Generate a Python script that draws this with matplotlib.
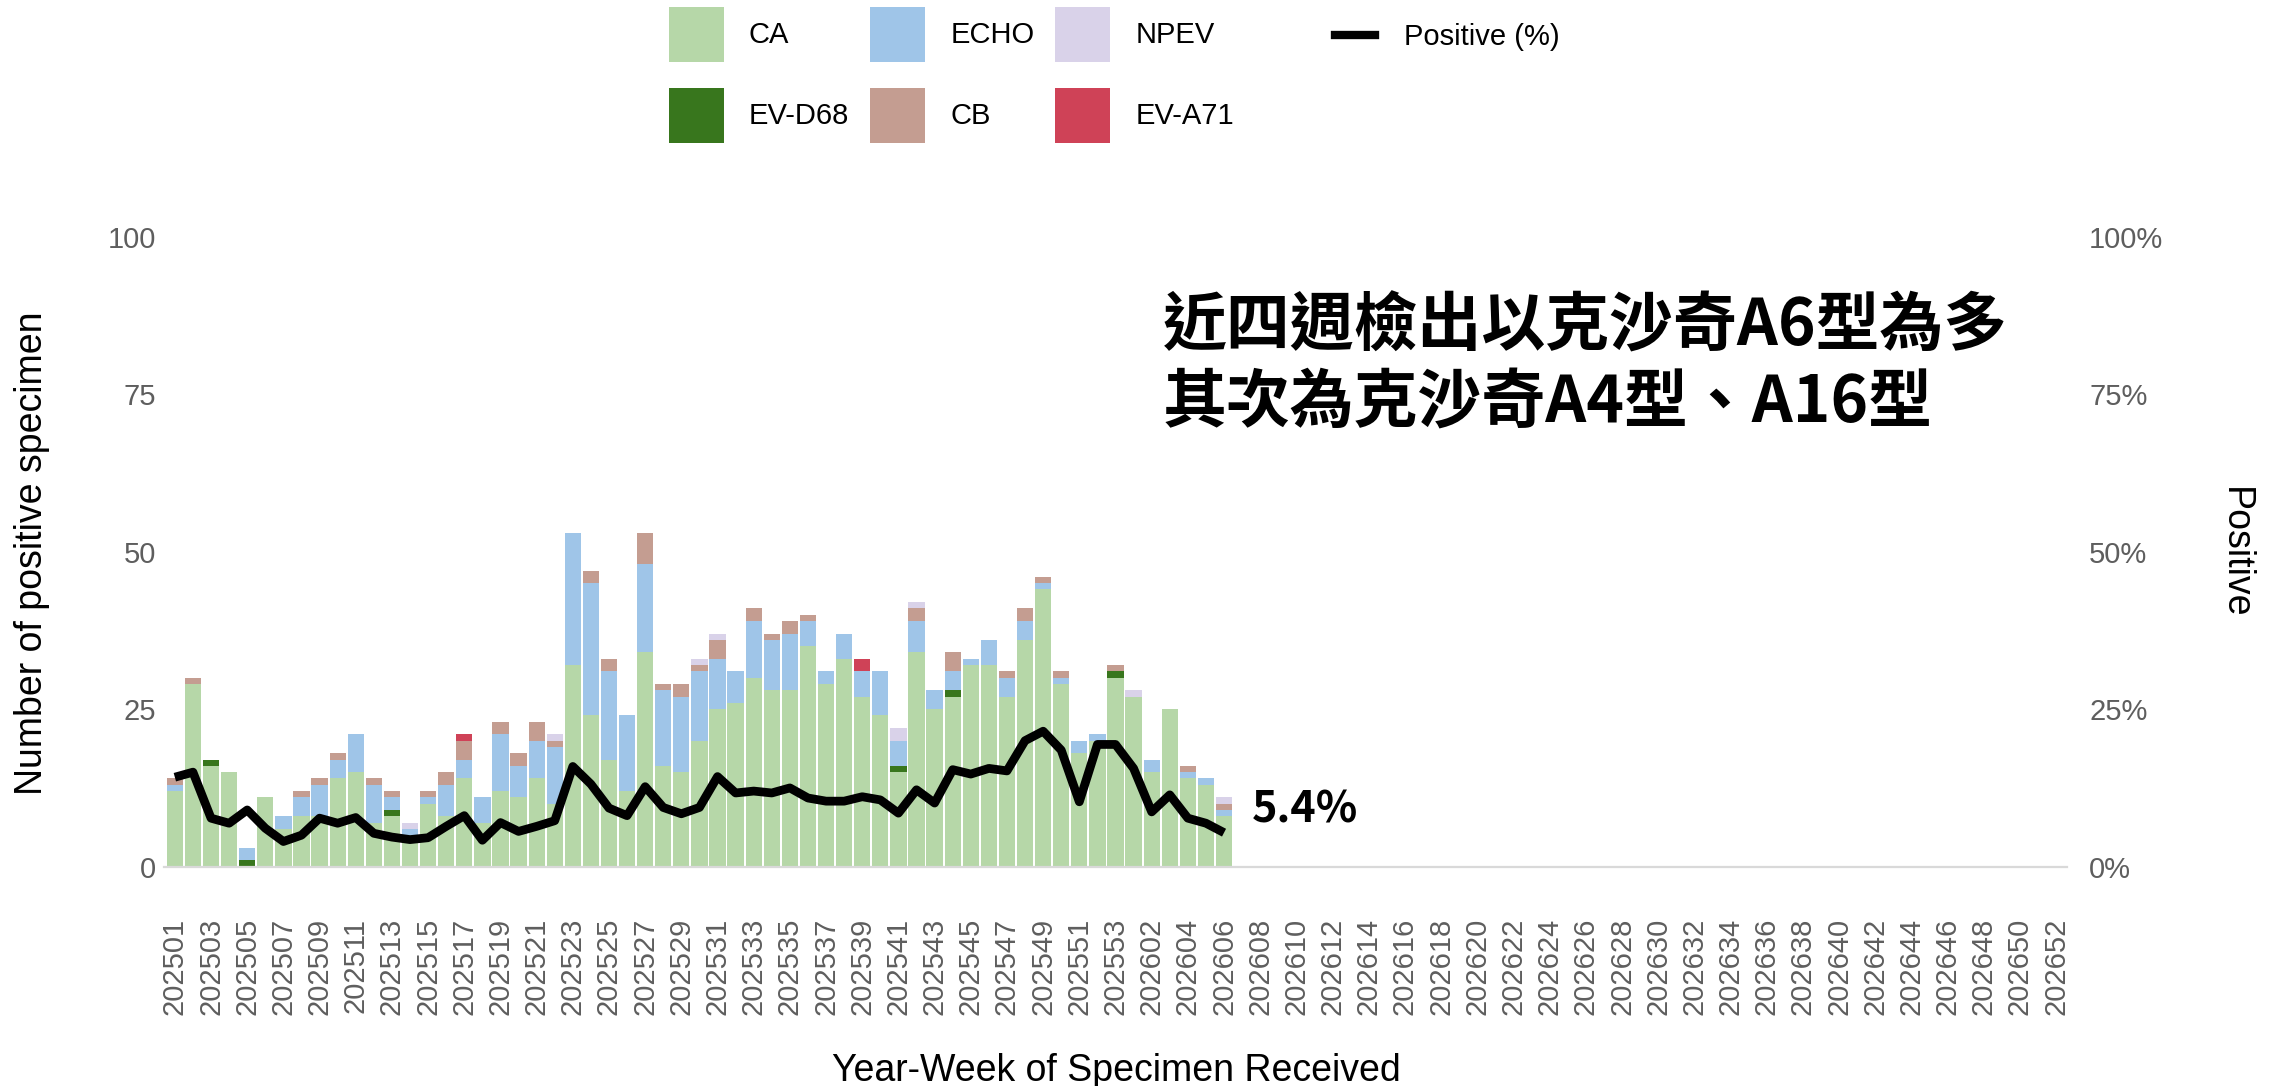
import numpy as np
import matplotlib
matplotlib.use("Agg")
import matplotlib.pyplot as plt
from matplotlib.patches import Patch
from matplotlib.lines import Line2D

plt.rcParams['font.family'] = ['Liberation Sans', 'DejaVu Sans']

# ---- data ----
weeks = [f"2025{w:02d}" for w in range(1, 54)] + [f"2026{w:02d}" for w in range(1, 53)]

CA = [12, 29, 16, 15, 0, 11, 6, 8, 8, 14, 15, 7, 8, 5, 10, 8, 14, 7, 12, 11,
      14, 10, 32, 24, 17, 12, 34, 16, 15, 20, 25, 26, 30, 28, 28, 35, 29, 33, 27, 24,
      15, 34, 25, 27, 32, 32, 27, 36, 44, 29, 18, 20, 30, 27, 15, 25, 14, 13, 8]
EV_D68 = [0, 0, 1, 0, 1, 0, 0, 0, 0, 0, 0, 0, 1, 0, 0, 0, 0, 0, 0, 0,
          0, 0, 0, 0, 0, 0, 0, 0, 0, 0, 0, 0, 0, 0, 0, 0, 0, 0, 0, 0,
          1, 0, 0, 1, 0, 0, 0, 0, 0, 0, 0, 0, 1, 0, 0, 0, 0, 0, 0]
ECHO = [1, 0, 0, 0, 2, 0, 2, 3, 5, 3, 6, 6, 2, 1, 1, 5, 3, 4, 9, 5,
        6, 9, 21, 21, 14, 12, 14, 12, 12, 11, 8, 5, 9, 8, 9, 4, 2, 4, 4, 7,
        4, 5, 3, 3, 1, 4, 3, 3, 1, 1, 2, 1, 0, 0, 2, 0, 1, 1, 1]
CB = [1, 1, 0, 0, 0, 0, 0, 1, 1, 1, 0, 1, 1, 0, 1, 2, 3, 0, 2, 2,
      3, 1, 0, 2, 2, 0, 5, 1, 2, 1, 3, 0, 2, 1, 2, 1, 0, 0, 0, 0,
      0, 2, 0, 3, 0, 0, 1, 2, 1, 1, 0, 0, 1, 0, 0, 0, 1, 0, 1]
NPEV = [0, 0, 0, 0, 0, 0, 0, 0, 0, 0, 0, 0, 0, 1, 0, 0, 0, 0, 0, 0,
        0, 1, 0, 0, 0, 0, 0, 0, 0, 1, 1, 0, 0, 0, 0, 0, 0, 0, 0, 0,
        2, 1, 0, 0, 0, 0, 0, 0, 0, 0, 0, 0, 0, 1, 0, 0, 0, 0, 1]
EV_A71 = [0, 0, 0, 0, 0, 0, 0, 0, 0, 0, 0, 0, 0, 0, 0, 0, 1, 0, 0, 0,
          0, 0, 0, 0, 0, 0, 0, 0, 0, 0, 0, 0, 0, 0, 0, 0, 0, 0, 2, 0,
          0, 0, 0, 0, 0, 0, 0, 0, 0, 0, 0, 0, 0, 0, 0, 0, 0, 0, 0]
positive_pct = [14.2, 15.0, 7.7, 6.9, 9.0, 6.1, 4.0, 5.0, 7.7, 6.9, 7.8, 5.3, 4.7, 4.3, 4.6,
                6.4, 8.1, 4.2, 7.0, 5.6, 6.4, 7.3, 15.9, 13.1, 9.3, 8.1, 12.7, 9.4, 8.4, 9.4,
                14.3, 11.7, 12.0, 11.7, 12.5, 10.9, 10.4, 10.4, 11.1, 10.6, 8.5, 12.2, 10.1, 15.4, 14.7,
                15.6, 15.2, 20.0, 21.5, 18.5, 10.3, 19.4, 19.4, 15.6, 8.7, 11.4, 7.7, 6.9, 5.4]

series = [("CA", CA, "#b6d7a8"), ("EV-D68", EV_D68, "#38761d"), ("ECHO", ECHO, "#9fc5e8"),
          ("CB", CB, "#c49d91"), ("NPEV", NPEV, "#d9d2e9"), ("EV-A71", EV_A71, "#cf4257")]

W, H = 2282, 1086
fig = plt.figure(figsize=(W / 100, H / 100), dpi=100)

def fx(px):
    return px / W

def fy(py):
    return 1 - py / H

ax_left, ax_right, ax_top, ax_bot = 164, 2067, 236.5, 866.7
ax = fig.add_axes([fx(ax_left), fy(ax_bot), (ax_right - ax_left) / W, (ax_bot - ax_top) / H])

x = np.arange(len(CA))
bottom = np.zeros(len(CA))
for name, vals, col in series:
    v = np.array(vals, dtype=float)
    ax.bar(x, v, bottom=bottom, width=0.9, color=col, linewidth=0)
    bottom += v

ax.set_xlim(-0.6, len(weeks) - 1 + 0.6)
ax.set_ylim(0, 100)
ax.set_yticks([0, 25, 50, 75, 100])
ax.set_xticks(np.arange(0, len(weeks), 2))
ax.set_xticklabels(weeks[::2], rotation=90)
tick_col = "#5e5e5e"
ax.tick_params(axis='y', length=0, labelsize=21, labelcolor=tick_col, pad=6)
ax.tick_params(axis='x', length=0, labelsize=21, labelcolor=tick_col, pad=37)
for s in ['left', 'right', 'top']:
    ax.spines[s].set_visible(False)
ax.spines['bottom'].set_color('#d9d9d9')
ax.spines['bottom'].set_linewidth(1.6)

ax2 = ax.twinx()
ax2.plot(x, positive_pct, color='black', lw=6.3, solid_joinstyle='round', solid_capstyle='butt')
ax2.set_ylim(0, 100)
ax2.set_yticks([0, 25, 50, 75, 100])
ax2.set_yticklabels([f"{v}%" for v in [0, 25, 50, 75, 100]])
ax2.tick_params(axis='y', length=0, labelsize=21, labelcolor=tick_col, pad=16)
for s in ['left', 'right', 'top', 'bottom']:
    ax2.spines[s].set_visible(False)

cjk = ['Noto Sans CJK TC', 'DejaVu Sans']
ax2.annotate(f"{positive_pct[-1]}%", xy=(x[-1], positive_pct[-1]), xytext=(20, 17),
             textcoords='offset points', fontsize=31, fontweight='bold', family=cjk,
             ha='left', va='center')

fig.text(fx(1163), fy(327), "近四週檢出以克沙奇A6型為多", family=cjk, fontweight='bold',
         fontsize=46, ha='left', va='center')
fig.text(fx(1163), fy(403), "其次為克沙奇A4型、A16型", family=cjk, fontweight='bold',
         fontsize=46, ha='left', va='center')

# axis titles
fig.text(fx(1116), fy(1071), "Year-Week of Specimen Received", fontsize=27, ha='center', va='center')
fig.text(fx(32), fy(553), "Number of positive specimen", fontsize=27, rotation=90, ha='center', va='center')
fig.text(fx(2235), fy(553), "Positive", fontsize=27, rotation=-90, ha='center', va='center')

# legends
fill_handles = [Patch(facecolor=c, edgecolor='none', label=n) for n, _, c in series]
fig.legend(handles=fill_handles, ncol=3, loc='upper left',
           bbox_to_anchor=(fx(669), fy(7)), frameon=False, fontsize=21,
           handlelength=1.88, handleheight=2.52, handletextpad=0.86,
           columnspacing=0.72, labelspacing=0.89, borderpad=0, borderaxespad=0)
line_handle = [Line2D([0], [0], color='black', lw=6, label='Positive (%)')]
fig.legend(handles=line_handle, loc='center left', bbox_to_anchor=(fx(1335), fy(37)),
           frameon=False, fontsize=21, handlelength=1.37, handletextpad=1.0,
           borderpad=0, borderaxespad=0)

fig.savefig("out.png", dpi=100)
